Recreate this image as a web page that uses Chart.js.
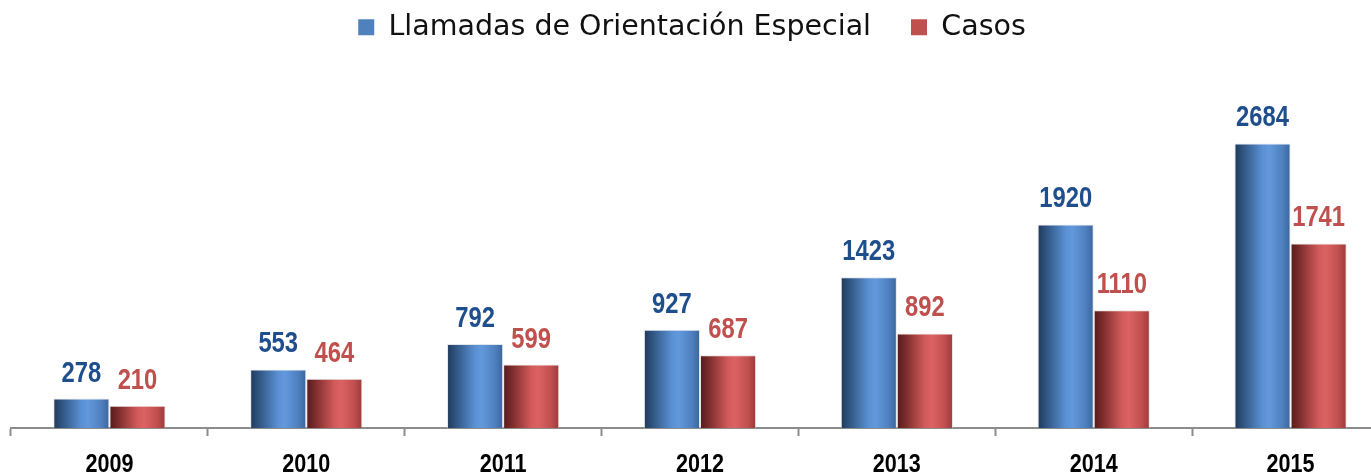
<!DOCTYPE html>
<html lang="es">
<head>
  <meta charset="UTF-8" />
  <title>Llamadas de Orientación Especial y Casos</title>
  <script src="https://cdn.jsdelivr.net/npm/chart.js"></script>
  <style>
    html, body {
      margin: 0;
      padding: 0;
      background: #fff;
      overflow: hidden;
    }
    #wrap {
      position: absolute;
      left: 0;
      top: 0;
      width: 1400px;
      height: 474px;
      overflow: hidden;
    }
  </style>
</head>
<body>
  <div id="wrap">
    <canvas id="grafico" width="1400" height="474"></canvas>
  </div>

  <script>
    // Datos por año
    const anios = ['2009', '2010', '2011', '2012', '2013', '2014', '2015'];
    const llamadas = [278, 553, 792, 927, 1423, 1920, 2684];
    const casos = [210, 464, 599, 687, 892, 1110, 1741];

    const catPct = 0.57;
    const fuenteNum = "'Liberation Sans', Arial, sans-serif";

    // Degradado horizontal tipo cilindro para cada barra
    const tonos = {
      azul: { plano: '#4f81bd', texto: '#1f4e8c', stops: ['#1f3858', '#2f5480', '#5a91d4', '#6299dc', '#4f80bf', '#3a659c'] },
      rojo: { plano: '#c0504d', texto: '#c0504d', stops: ['#551b1b', '#7a2b2b', '#d25a5a', '#dc6262', '#c24f4f', '#983a3a'] }
    };
    const posiciones = [0, 0.15, 0.5, 0.62, 0.85, 1];

    function relleno(tono, lado) {
      return function (ctx) {
        if (ctx.type !== 'data') return tono.plano;
        const chart = ctx.chart;
        const x = chart.scales.x;
        if (!x || !chart.chartArea) return tono.plano;
        const ancho = x.width / anios.length;
        const centro = x.getPixelForValue(ctx.dataIndex);
        const mitad = ancho * catPct / 2;
        const izq = lado === 0 ? centro - mitad : centro;
        const g = chart.ctx.createLinearGradient(izq, 0, izq + mitad, 0);
        tono.stops.forEach((c, i) => g.addColorStop(posiciones[i], c));
        return g;
      };
    }

    // Texto en negrita estrechado horizontalmente
    function textoEstrecho(c, txt, x, y, escala) {
      c.save();
      c.translate(x, y);
      c.scale(escala, 1);
      c.fillText(txt, 0, 0);
      c.restore();
    }

    // Alto fijo de la leyenda y pequeño desplazamiento a la izquierda
    const ajusteLeyenda = {
      id: 'ajusteLeyenda',
      beforeInit(chart) {
        if (!chart.legend) return;
        const fit = chart.legend.fit;
        chart.legend.fit = function () {
          fit.bind(chart.legend)();
          this.height = 137;
        };
      },
      afterLayout(chart) {
        if (!chart.legend) return;
        chart.legend.left -= 8;
        chart.legend.right -= 8;
      }
    };

    // Valores encima de las barras y años bajo el eje
    const etiquetas = {
      id: 'etiquetas',
      afterDatasetsDraw(chart) {
        const c = chart.ctx;
        const colores = [tonos.azul.texto, tonos.rojo.texto];
        c.save();
        c.font = 'bold 29px ' + fuenteNum;
        c.textAlign = 'center';
        c.textBaseline = 'alphabetic';
        chart.data.datasets.forEach((ds, i) => {
          const meta = chart.getDatasetMeta(i);
          c.fillStyle = colores[i];
          meta.data.forEach((barra, j) => {
            textoEstrecho(c, String(ds.data[j]), barra.x, barra.y - 17, 0.82);
          });
        });

        const x = chart.scales.x;
        c.font = 'bold 26px ' + fuenteNum;
        c.fillStyle = '#000';
        anios.forEach((a, i) => {
          textoEstrecho(c, a, x.getPixelForValue(i), 472, 0.83);
        });
        c.restore();
      }
    };

    const borde = { top: 1, left: 1, right: 1, bottom: 0 };

    new Chart(document.getElementById('grafico'), {
      type: 'bar',
      data: {
        labels: anios,
        datasets: [
          {
            label: 'Llamadas de Orientación Especial',
            data: llamadas,
            backgroundColor: relleno(tonos.azul, 0),
            borderColor: 'rgba(205, 212, 224, 0.6)',
            borderWidth: borde,
            borderSkipped: false,
            categoryPercentage: catPct,
            barPercentage: 1
          },
          {
            label: 'Casos',
            data: casos,
            backgroundColor: relleno(tonos.rojo, 1),
            borderColor: 'rgba(220, 205, 205, 0.6)',
            borderWidth: borde,
            borderSkipped: false,
            categoryPercentage: catPct,
            barPercentage: 1
          }
        ]
      },
      options: {
        responsive: false,
        animation: false,
        layout: {
          padding: { top: -27, left: 11, right: 11, bottom: 38 }
        },
        plugins: {
          tooltip: { enabled: false },
          legend: {
            position: 'top',
            labels: {
              boxWidth: 16,
              boxHeight: 16,
              padding: 40,
              color: '#111',
              font: { family: "'DejaVu Sans', sans-serif", size: 28.5 },
              generateLabels(chart) {
                const items = Chart.defaults.plugins.legend.labels.generateLabels(chart);
                const planos = [tonos.azul.plano, tonos.rojo.plano];
                items.forEach((it, i) => {
                  it.fillStyle = planos[i];
                  it.strokeStyle = planos[i];
                  it.lineWidth = 0;
                });
                return items;
              }
            }
          }
        },
        scales: {
          x: {
            grid: {
              offset: true,
              drawOnChartArea: false,
              drawTicks: true,
              tickLength: 8,
              tickWidth: 2,
              tickColor: '#8c8c8c'
            },
            border: { display: true, color: '#8c8c8c', width: 2 },
            ticks: { display: false }
          },
          y: {
            display: false,
            min: 0,
            max: 3000
          }
        }
      },
      plugins: [ajusteLeyenda, etiquetas]
    });
  </script>
</body>
</html>
